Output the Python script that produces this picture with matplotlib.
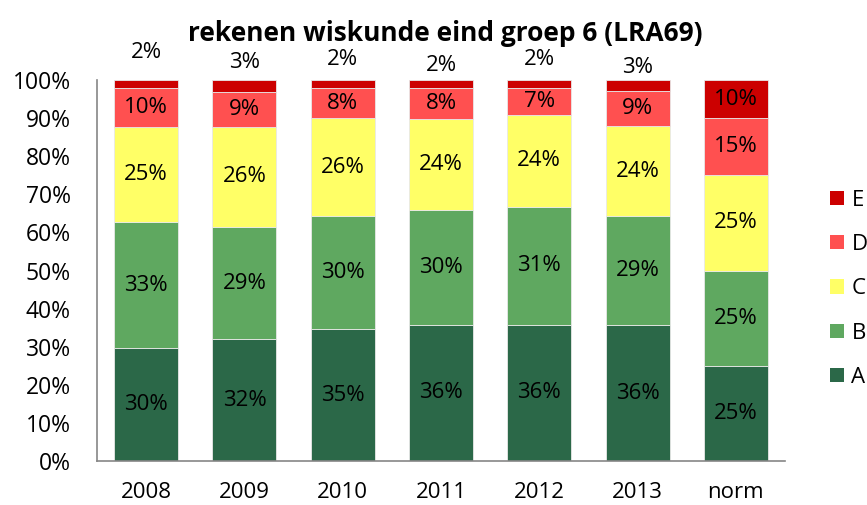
import matplotlib
matplotlib.use("Agg")
import matplotlib.pyplot as plt
from matplotlib.patches import Patch
import numpy as np

plt.rcParams["font.family"] = ["Open Sans", "DejaVu Sans"]

# ---------------------------------------------------------------------------
# Data (percentages per level, bottom to top)
# ---------------------------------------------------------------------------
categories = ["2008", "2009", "2010", "2011", "2012", "2013", "norm"]
levels = ["A", "B", "C", "D", "E"]

level_a = [29.6, 32.0, 34.6, 35.8, 35.8, 35.6, 25.0]
level_b = [33.1, 29.4, 29.6, 30.0, 30.9, 28.6, 25.0]
level_c = [25.0, 26.3, 25.7, 23.9, 24.1, 23.8, 25.0]
level_d = [10.3, 9.1, 8.1, 8.3, 7.2, 9.1, 15.0]
level_e = [2.0, 3.2, 2.0, 2.0, 2.0, 2.9, 10.0]

colors = ["#2B6848", "#5FA860", "#FFFF66", "#FF5050", "#CC0000"]

# y positions (axis %) of the small E labels that Excel placed above the bars
e_label_y = [107.1, 104.5, 105.5, 103.7, 105.5, 103.4, None]

# ---------------------------------------------------------------------------
# Figure
# ---------------------------------------------------------------------------
fig = plt.figure(figsize=(8.67, 5.05), dpi=100)
ax = fig.add_axes([0.1119, 0.0871, 0.7935, 0.7545])

x = np.arange(len(categories))
series = [level_a, level_b, level_c, level_d, level_e]
bottom = np.zeros(len(categories))
width = 0.65
label_size = 16

for name, vals, col in zip(levels, series, colors):
    vals = np.array(vals)
    ax.bar(x, vals, width, bottom=bottom, color=col,
           edgecolor="#e8e8e8", linewidth=0.6, label=name)
    for i, v in enumerate(vals):
        txt = f"{round(v):.0f}%"
        if name == "E" and e_label_y[i] is not None:
            ax.text(x[i], e_label_y[i], txt, ha="center", va="center",
                    fontsize=label_size, clip_on=False)
        else:
            ax.text(x[i], bottom[i] + v / 2, txt, ha="center", va="center",
                    fontsize=label_size)
    bottom += vals

ax.set_xlim(-0.5, len(categories) - 0.5)
ax.set_ylim(0, 100)
ax.set_yticks(np.arange(0, 101, 10))
ax.set_yticklabels([f"{t}%" for t in range(0, 101, 10)])
ax.set_xticks(x)
ax.set_xticklabels(categories)
ax.tick_params(axis="y", length=0, pad=19, labelsize=16.5)
ax.tick_params(axis="x", length=0, pad=15, labelsize=label_size)

for side in ["top", "right"]:
    ax.spines[side].set_visible(False)
for side in ["left", "bottom"]:
    ax.spines[side].set_color("#868686")
    ax.spines[side].set_linewidth(1.2)

fig.text(0.513, 0.933, "rekenen wiskunde eind groep 6 (LRA69)",
         ha="center", va="center", fontsize=19, fontweight="bold")

handles = [Patch(facecolor=c, edgecolor="none") for c in colors[::-1]]
fig.legend(handles, levels[::-1], loc="center left",
           bbox_to_anchor=(0.947, 0.428), frameon=False,
           fontsize=label_size, handlelength=0.62, handleheight=0.62,
           handletextpad=0.35, labelspacing=1.05, borderaxespad=0)

fig.savefig("out.png", dpi=100)
